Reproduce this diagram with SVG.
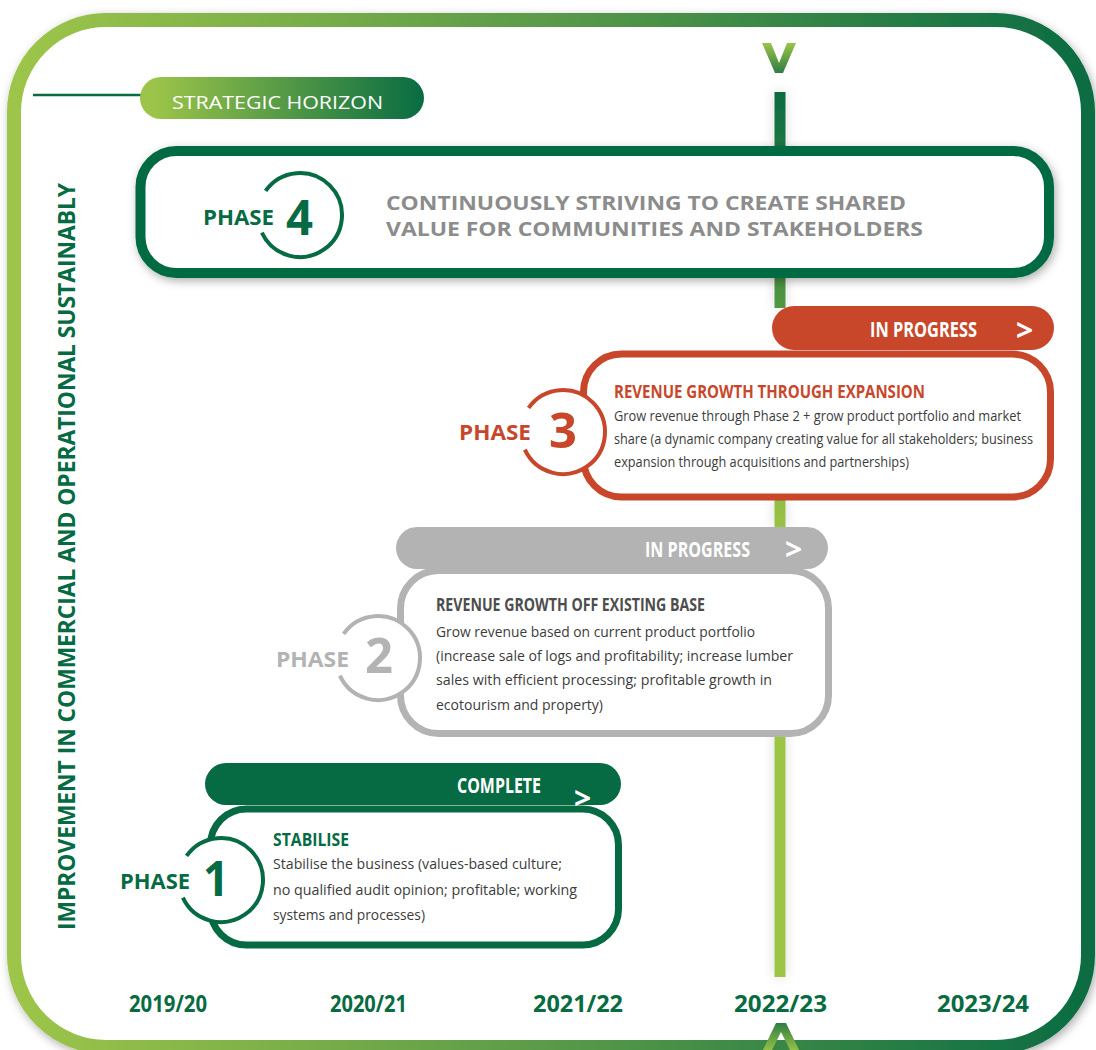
<svg xmlns="http://www.w3.org/2000/svg" width="1096" height="1050" viewBox="0 0 1096 1050">
  <defs>
    <linearGradient id="frameGrad" x1="0" y1="0" x2="1" y2="0">
      <stop offset="0" stop-color="#9dc549"/>
      <stop offset="0.5" stop-color="#5a9a48"/>
      <stop offset="1" stop-color="#0b6c43"/>
    </linearGradient>
    <linearGradient id="pillGrad" x1="0" y1="0" x2="1" y2="0">
      <stop offset="0.05" stop-color="#9cc449"/>
      <stop offset="1" stop-color="#086c43"/>
    </linearGradient>
    <linearGradient id="lineGrad" gradientUnits="userSpaceOnUse" x1="0" y1="90" x2="0" y2="540">
      <stop offset="0" stop-color="#0b6b42"/>
      <stop offset="1" stop-color="#9dc544"/>
    </linearGradient>
    <linearGradient id="chevTop" x1="0" y1="0" x2="0" y2="1">
      <stop offset="0" stop-color="#9cc449"/>
      <stop offset="1" stop-color="#2f7d45"/>
    </linearGradient>
    <linearGradient id="chevBot" x1="0" y1="0" x2="0" y2="1">
      <stop offset="0" stop-color="#2f7d45"/>
      <stop offset="1" stop-color="#9cc449"/>
    </linearGradient>
    <filter id="shadow" x="-10%" y="-10%" width="120%" height="130%">
      <feDropShadow dx="2" dy="3" stdDeviation="5" flood-color="#000" flood-opacity="0.32"/>
    </filter>
    <filter id="haze" filterUnits="userSpaceOnUse" x="740" y="60" width="80" height="950">
      <feDropShadow dx="0" dy="0" stdDeviation="6" flood-color="#000" flood-opacity="0.15"/>
    </filter>
  </defs>
  <style>
    .cond { font-family: "Open Sans", "Liberation Sans", sans-serif; }
    .bold { font-weight: 700; }
    .body { font-size: 14px; fill: #3c3c3c; }
    .title { font-size: 17px; font-weight: 700; }
    .pilltxt { font-size: 21px; font-weight: 700; fill: #ffffff; }
    .chev { font-size: 30px; font-weight: 700; fill: #ffffff; }
    .phase { font-size: 22px; font-weight: 700; }
    .num { font-size: 48px; font-weight: 700; }
    .year { font-size: 24px; font-weight: 700; fill: #086b42; }
    .green { fill: #066b43; }
    .red { fill: #c8472b; }
    .grey { fill: #b3b3b3; }
  </style>

  <rect width="1096" height="1050" fill="#ffffff"/>

  <!-- outer frame -->
  <rect x="14" y="20" width="1074" height="1027" rx="92" ry="92" fill="#ffffff" stroke="url(#frameGrad)" stroke-width="14" filter="url(#shadow)"/>

  <!-- strategic horizon label -->
  <g id="horizon">
    <line x1="33" y1="95" x2="145" y2="95" stroke="#086b42" stroke-width="2.5"/>
    <rect x="140" y="77" width="284" height="42" rx="21" fill="url(#pillGrad)"/>
    <text x="172" y="109" class="cond" font-size="19" fill="#ffffff" textLength="211" lengthAdjust="spacingAndGlyphs">STRATEGIC HORIZON</text>
  </g>

  <!-- timeline marker: visible stretches between the phase boxes -->
  <g id="connectors">
    <g filter="url(#haze)">
      <rect x="774.5" y="92" width="11" height="60" fill="url(#lineGrad)"/>
      <rect x="774.5" y="272" width="11" height="36" fill="url(#lineGrad)"/>
      <rect x="774.5" y="496" width="11" height="33" fill="url(#lineGrad)"/>
      <rect x="774.5" y="732" width="11" height="245" fill="url(#lineGrad)"/>
    </g>
    <polygon points="762,43 771,43 779,63 787,43 796,43 783,73 775,73" fill="url(#chevTop)"/>
  </g>

  <!-- vertical axis label -->
  <text transform="translate(75,930) rotate(-90)" class="cond bold green" font-size="23" textLength="747" lengthAdjust="spacingAndGlyphs">IMPROVEMENT IN COMMERCIAL AND OPERATIONAL SUSTAINABLY</text>

  <!-- phase 4 -->
  <g id="phase4">
    <rect x="140.5" y="151" width="908.5" height="122" rx="36" fill="#ffffff" stroke="#066b43" stroke-width="10" filter="url(#shadow)"/>
    <path d="M265.6,190.9 A42,42 0 1 1 261.9,232.7" fill="none" stroke="#066b43" stroke-width="4"/>
    <text x="203" y="225" class="cond phase green" textLength="71" lengthAdjust="spacingAndGlyphs">PHASE</text>
    <text x="286" y="235" class="cond num green" textLength="27" lengthAdjust="spacingAndGlyphs">4</text>
    <text x="386" y="210" class="cond bold" font-size="20" fill="#8c8c8c" textLength="520" lengthAdjust="spacingAndGlyphs">CONTINUOUSLY STRIVING TO CREATE SHARED</text>
    <text x="386" y="236" class="cond bold" font-size="20" fill="#8c8c8c" textLength="537" lengthAdjust="spacingAndGlyphs">VALUE FOR COMMUNITIES AND STAKEHOLDERS</text>
  </g>

  <!-- phase 3 -->
  <g id="phase3">
    <rect x="772" y="306" width="282" height="44" rx="22" fill="#c8472b"/>
    <text x="870" y="337" class="cond pilltxt" textLength="107" lengthAdjust="spacingAndGlyphs">IN PROGRESS</text>
    <text x="1016" y="341" class="cond chev">&gt;</text>
    <rect x="583.5" y="354" width="467" height="143" rx="38" fill="#ffffff" stroke="#c8472b" stroke-width="7"/>
    <circle cx="563" cy="432" r="42" fill="#ffffff"/>
    <path d="M528.6,407.9 A42,42 0 1 1 524.9,449.7" fill="none" stroke="#c8472b" stroke-width="4"/>
    <text x="459" y="440" class="cond phase red" textLength="72" lengthAdjust="spacingAndGlyphs">PHASE</text>
    <text x="549" y="448" class="cond num red" textLength="28" lengthAdjust="spacingAndGlyphs">3</text>
    <text x="614" y="398" class="cond title red" textLength="311" lengthAdjust="spacingAndGlyphs">REVENUE GROWTH THROUGH EXPANSION</text>
    <text x="614" y="421" class="cond body" textLength="407" lengthAdjust="spacingAndGlyphs">Grow revenue through Phase 2 + grow product portfolio and market</text>
    <text x="614" y="444" class="cond body" textLength="419" lengthAdjust="spacingAndGlyphs">share (a dynamic company creating value for all stakeholders; business</text>
    <text x="614" y="467" class="cond body" textLength="295" lengthAdjust="spacingAndGlyphs">expansion through acquisitions and partnerships)</text>
  </g>

  <!-- phase 2 -->
  <g id="phase2">
    <rect x="396" y="527" width="432" height="42" rx="21" fill="#b3b3b3"/>
    <text x="645" y="557" class="cond pilltxt" textLength="105" lengthAdjust="spacingAndGlyphs">IN PROGRESS</text>
    <text x="785" y="560" class="cond chev">&gt;</text>
    <rect x="400.5" y="570.5" width="428" height="163" rx="38" fill="#ffffff" stroke="#b3b3b3" stroke-width="7"/>
    <circle cx="378" cy="658" r="42" fill="#ffffff"/>
    <path d="M343.6,633.9 A42,42 0 1 1 339.9,675.7" fill="none" stroke="#b3b3b3" stroke-width="4"/>
    <text x="276" y="667" class="cond phase grey" textLength="73" lengthAdjust="spacingAndGlyphs">PHASE</text>
    <text x="365" y="673" class="cond num grey" textLength="28" lengthAdjust="spacingAndGlyphs">2</text>
    <text x="436" y="611" class="cond title" fill="#4d4d4d" textLength="269" lengthAdjust="spacingAndGlyphs">REVENUE GROWTH OFF EXISTING BASE</text>
    <text x="436" y="637" class="cond body" font-size="16.5" textLength="319" lengthAdjust="spacingAndGlyphs">Grow revenue based on current product portfolio</text>
    <text x="436" y="661" class="cond body" font-size="16.5" textLength="357" lengthAdjust="spacingAndGlyphs">(increase sale of logs and profitability; increase lumber</text>
    <text x="436" y="685" class="cond body" font-size="16.5" textLength="336" lengthAdjust="spacingAndGlyphs">sales with efficient processing; profitable growth in</text>
    <text x="436" y="710" class="cond body" font-size="16.5" textLength="167" lengthAdjust="spacingAndGlyphs">ecotourism and property)</text>
  </g>

  <!-- phase 1 -->
  <g id="phase1">
    <rect x="205" y="763" width="416" height="42" rx="21" fill="#066b43"/>
    <text x="457" y="793" class="cond pilltxt" textLength="84" lengthAdjust="spacingAndGlyphs">COMPLETE</text>
    <rect x="210.5" y="809" width="408" height="136" rx="36" fill="#ffffff" stroke="#066b43" stroke-width="7"/>
    <text x="574" y="809" class="cond chev">&gt;</text>
    <circle cx="221" cy="880" r="42" fill="#ffffff"/>
    <path d="M186.6,855.9 A42,42 0 1 1 182.9,897.7" fill="none" stroke="#066b43" stroke-width="4"/>
    <text x="120" y="889" class="cond phase green" textLength="70" lengthAdjust="spacingAndGlyphs">PHASE</text>
    <text x="203" y="896" class="cond num green" textLength="26" lengthAdjust="spacingAndGlyphs">1</text>
    <text x="273" y="846" class="cond title green" textLength="76" lengthAdjust="spacingAndGlyphs">STABILISE</text>
    <text x="273" y="869" class="cond body" font-size="16.5" textLength="289" lengthAdjust="spacingAndGlyphs">Stabilise the business (values-based culture;</text>
    <text x="273" y="895" class="cond body" font-size="16.5" textLength="304" lengthAdjust="spacingAndGlyphs">no qualified audit opinion; profitable; working</text>
    <text x="273" y="920" class="cond body" font-size="16.5" textLength="152" lengthAdjust="spacingAndGlyphs">systems and processes)</text>
  </g>

  <!-- year axis -->
  <g id="years">
    <text x="129" y="1012" class="cond year" textLength="78" lengthAdjust="spacingAndGlyphs">2019/20</text>
    <text x="330" y="1012" class="cond year" textLength="77" lengthAdjust="spacingAndGlyphs">2020/21</text>
    <text x="533" y="1012" class="cond year" textLength="90" lengthAdjust="spacingAndGlyphs">2021/22</text>
    <text x="734" y="1012" class="cond year" textLength="93" lengthAdjust="spacingAndGlyphs">2022/23</text>
    <text x="937" y="1012" class="cond year" textLength="92" lengthAdjust="spacingAndGlyphs">2023/24</text>
  </g>

  <!-- bottom marker -->
  <polygon points="776,1023 786,1023 800,1052 791,1052 781,1032 771,1052 762,1052" fill="url(#chevBot)"/>
</svg>
